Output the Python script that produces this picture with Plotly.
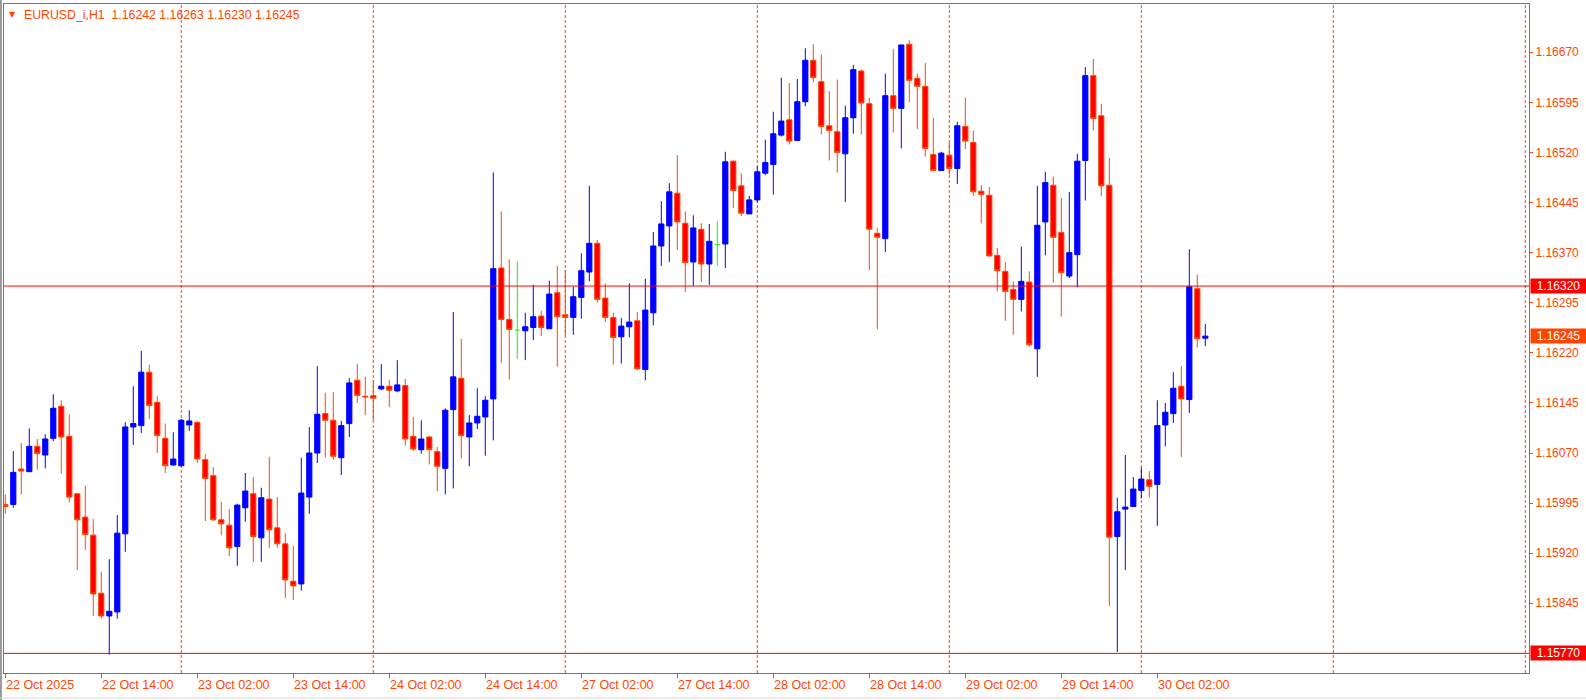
import plotly.graph_objects as go
import pandas as pd

symbol = "EURUSD_i,H1"
start_time = "2025-10-22 02:00"

opens = [1.15993, 1.15993, 1.16046, 1.16042, 1.16080, 1.16067, 1.16092, 1.16140, 1.16095, 1.16009,
         1.15974, 1.15947, 1.15860, 1.15826, 1.15832, 1.15949, 1.16109, 1.16111, 1.16191, 1.16146,
         1.16092, 1.16052, 1.16051, 1.16112, 1.16116, 1.16060, 1.16036, 1.15970, 1.15962, 1.15930,
         1.15988, 1.16009, 1.15943, 1.16001, 1.15958, 1.15934, 1.15878, 1.15874, 1.16004, 1.16070,
         1.16129, 1.16119, 1.16063, 1.16114, 1.16179, 1.16155, 1.16156, 1.16166, 1.16170, 1.16163,
         1.16171, 1.16095, 1.16075, 1.16094, 1.16072, 1.16047, 1.16135, 1.16182, 1.16094, 1.16115,
         1.16124, 1.16151, 1.16347, 1.16270, 1.16254, 1.16253, 1.16258, 1.16275, 1.16256, 1.16310,
         1.16277, 1.16273, 1.16303, 1.16341, 1.16384, 1.16302, 1.16273, 1.16244, 1.16259, 1.16268,
         1.16195, 1.16280, 1.16380, 1.16410, 1.16459, 1.16414, 1.16356, 1.16405, 1.16353, 1.16382,
         1.16383, 1.16507, 1.16470, 1.16428, 1.16449, 1.16489, 1.16502, 1.16546, 1.16569, 1.16538,
         1.16596, 1.16658, 1.16626, 1.16560, 1.16551, 1.16518, 1.16572, 1.16642, 1.16593, 1.16399,
         1.16391, 1.16605, 1.16586, 1.16682, 1.16631, 1.16619, 1.16517, 1.16493, 1.16516, 1.16496,
         1.16559, 1.16535, 1.16462, 1.16456, 1.16366, 1.16342, 1.16315, 1.16300, 1.16326, 1.16226,
         1.16416, 1.16471, 1.16400, 1.16335, 1.16367, 1.16508, 1.16635, 1.16575, 1.16471, 1.15945,
         1.15986, 1.15990, 1.16014, 1.16030, 1.16023, 1.16112, 1.16129, 1.16170, 1.16150, 1.16316,
         1.16242]

highs = [1.16008, 1.16073, 1.16085, 1.16107, 1.16091, 1.16098, 1.16158, 1.16149, 1.16128, 1.16009,
         1.16021, 1.15971, 1.15892, 1.15911, 1.15977, 1.16116, 1.16170, 1.16223, 1.16202, 1.16155,
         1.16114, 1.16101, 1.16121, 1.16134, 1.16117, 1.16068, 1.16049, 1.15997, 1.15986, 1.15994,
         1.16040, 1.16034, 1.16018, 1.16064, 1.16004, 1.15950, 1.15931, 1.16063, 1.16109, 1.16200,
         1.16160, 1.16161, 1.16118, 1.16182, 1.16203, 1.16184, 1.16179, 1.16203, 1.16179, 1.16209,
         1.16181, 1.16124, 1.16119, 1.16095, 1.16079, 1.16137, 1.16281, 1.16241, 1.16127, 1.16167,
         1.16155, 1.16490, 1.16432, 1.16360, 1.16357, 1.16280, 1.16322, 1.16283, 1.16328, 1.16350,
         1.16344, 1.16319, 1.16369, 1.16470, 1.16389, 1.16324, 1.16280, 1.16272, 1.16324, 1.16281,
         1.16331, 1.16401, 1.16447, 1.16474, 1.16516, 1.16432, 1.16426, 1.16414, 1.16413, 1.16417,
         1.16521, 1.16508, 1.16489, 1.16455, 1.16499, 1.16539, 1.16581, 1.16632, 1.16624, 1.16630,
         1.16676, 1.16682, 1.16667, 1.16612, 1.16629, 1.16590, 1.16651, 1.16644, 1.16602, 1.16407,
         1.16638, 1.16675, 1.16681, 1.16688, 1.16638, 1.16654, 1.16572, 1.16521, 1.16536, 1.16566,
         1.16602, 1.16553, 1.16471, 1.16468, 1.16377, 1.16356, 1.16327, 1.16379, 1.16342, 1.16470,
         1.16491, 1.16484, 1.16452, 1.16461, 1.16518, 1.16648, 1.16660, 1.16593, 1.16512, 1.16003,
         1.16067, 1.16034, 1.16048, 1.16043, 1.16149, 1.16145, 1.16191, 1.16200, 1.16375, 1.16337,
         1.16263]

lows = [1.15979, 1.15988, 1.16008, 1.16042, 1.16045, 1.16047, 1.16088, 1.16039, 1.15996, 1.15895,
        1.15925, 1.15826, 1.15822, 1.15768, 1.15822, 1.15922, 1.16082, 1.16100, 1.16121, 1.16070,
        1.16040, 1.16051, 1.16049, 1.16103, 1.16055, 1.15968, 1.15968, 1.15947, 1.15916, 1.15901,
        1.15967, 1.15907, 1.15907, 1.15928, 1.15928, 1.15853, 1.15850, 1.15864, 1.15979, 1.16055,
        1.16063, 1.16060, 1.16037, 1.16094, 1.16145, 1.16127, 1.16119, 1.16164, 1.16139, 1.16161,
        1.16081, 1.16073, 1.16069, 1.16053, 1.16013, 1.16008, 1.16017, 1.16062, 1.16050, 1.16106,
        1.16066, 1.16089, 1.16205, 1.16180, 1.16211, 1.16209, 1.16239, 1.16245, 1.16256, 1.16199,
        1.16246, 1.16247, 1.16271, 1.16327, 1.16295, 1.16266, 1.16202, 1.16204, 1.16243, 1.16194,
        1.16179, 1.16261, 1.16350, 1.16356, 1.16374, 1.16311, 1.16320, 1.16326, 1.16322, 1.16350,
        1.16347, 1.16437, 1.16425, 1.16428, 1.16445, 1.16486, 1.16457, 1.16544, 1.16532, 1.16538,
        1.16589, 1.16625, 1.16547, 1.16508, 1.16490, 1.16446, 1.16548, 1.16547, 1.16344, 1.16255,
        1.16371, 1.16550, 1.16526, 1.16595, 1.16555, 1.16514, 1.16493, 1.16493, 1.16487, 1.16473,
        1.16525, 1.16455, 1.16414, 1.16364, 1.16312, 1.16268, 1.16247, 1.16282, 1.16229, 1.16184,
        1.16366, 1.16325, 1.16274, 1.16332, 1.16318, 1.16448, 1.16553, 1.16455, 1.15841, 1.15772,
        1.15895, 1.15990, 1.16002, 1.16003, 1.15961, 1.16080, 1.16115, 1.16064, 1.16130, 1.16228,
        1.16230]

closes = [1.15990, 1.16041, 1.16043, 1.16080, 1.16069, 1.16091, 1.16137, 1.16094, 1.16004, 1.15970,
          1.15948, 1.15859, 1.15826, 1.15833, 1.15950, 1.16109, 1.16114, 1.16191, 1.16141, 1.16096,
          1.16051, 1.16061, 1.16119, 1.16118, 1.16061, 1.16032, 1.15970, 1.15964, 1.15928, 1.15992,
          1.16013, 1.15945, 1.16003, 1.15955, 1.15934, 1.15880, 1.15871, 1.16010, 1.16070, 1.16128,
          1.16119, 1.16065, 1.16111, 1.16175, 1.16156, 1.16154, 1.16152, 1.16170, 1.16164, 1.16172,
          1.16091, 1.16076, 1.16091, 1.16075, 1.16050, 1.16134, 1.16184, 1.16096, 1.16115, 1.16125,
          1.16149, 1.16346, 1.16270, 1.16255, 1.16254, 1.16259, 1.16274, 1.16258, 1.16308, 1.16274,
          1.16273, 1.16304, 1.16343, 1.16384, 1.16300, 1.16273, 1.16243, 1.16260, 1.16266, 1.16196,
          1.16284, 1.16380, 1.16413, 1.16461, 1.16416, 1.16355, 1.16407, 1.16353, 1.16387, 1.16382,
          1.16506, 1.16463, 1.16429, 1.16449, 1.16491, 1.16505, 1.16548, 1.16567, 1.16537, 1.16596,
          1.16658, 1.16632, 1.16559, 1.16553, 1.16520, 1.16572, 1.16644, 1.16594, 1.16405, 1.16393,
          1.16605, 1.16586, 1.16681, 1.16628, 1.16619, 1.16526, 1.16493, 1.16519, 1.16496, 1.16560,
          1.16537, 1.16461, 1.16457, 1.16365, 1.16343, 1.16312, 1.16300, 1.16327, 1.16232, 1.16411,
          1.16475, 1.16393, 1.16340, 1.16370, 1.16507, 1.16635, 1.16571, 1.16470, 1.15944, 1.15982,
          1.15989, 1.16016, 1.16031, 1.16020, 1.16111, 1.16131, 1.16167, 1.16151, 1.16319, 1.16241,
          1.16245]

h_levels = [1.16320, 1.15770]
y_ticks = [1.15845, 1.15920, 1.15995, 1.16070, 1.16145, 1.16220,
           1.16295, 1.16370, 1.16445, 1.16520, 1.16595, 1.16670]

FG = "#FF4500"
BULL = "#0000FF"
BEAR_FILL = "#FF0000"
DOJI = "#00FF00"
FONT = "Liberation Sans"

n = len(opens)
total_slots = 191
all_hours = pd.date_range(start_time, periods=total_slots * 2, freq="h")
times = [t for t in all_hours if t.dayofweek < 5][:total_slots]

idx = list(range(n))
normal = [i for i in idx if opens[i] != closes[i]]
doji = [i for i in idx if opens[i] == closes[i]]

fig = go.Figure()
fig.add_trace(go.Candlestick(
    x=normal,
    open=[opens[i] for i in normal], high=[highs[i] for i in normal],
    low=[lows[i] for i in normal], close=[closes[i] for i in normal],
    increasing=dict(line=dict(color=BULL, width=1), fillcolor=BULL),
    decreasing=dict(line=dict(color=FG, width=1), fillcolor=BEAR_FILL),
    whiskerwidth=0, hoverinfo="skip", showlegend=False,
))

dx, dy = [], []
for i in doji:
    dx += [i, i, None, i - 0.32, i + 0.32, None]
    dy += [highs[i], lows[i], None, opens[i], opens[i], None]
fig.add_trace(go.Scatter(x=dx, y=dy, mode="lines", line=dict(color=DOJI, width=1),
                         hoverinfo="skip", showlegend=False))

shapes = []
# day separators
for k, t in enumerate(times):
    if t.hour == 0:
        shapes.append(dict(type="line", xref="x", yref="paper", x0=k, x1=k, y0=0, y1=1,
                           line=dict(color=FG, width=1, dash="3px,2px"), layer="below"))
# horizontal levels
for lv in h_levels:
    shapes.append(dict(type="line", xref="paper", yref="y", x0=0, x1=1, y0=lv, y1=lv,
                       line=dict(color="#FF0000", width=1)))
# window edges
shapes.append(dict(type="line", xref="paper", yref="paper", x0=-0.0020, x1=-0.0020, y0=-0.05, y1=1.01,
                   line=dict(color="#9a9a9a", width=2)))
shapes.append(dict(type="line", xref="paper", yref="paper", x0=-0.01, x1=1.05, y0=-0.0375, y1=-0.0375,
                   line=dict(color="#d8d8d8", width=1)))

annotations = []
tick_idx = list(range(0, n, 12))
for j, k in enumerate(tick_idx):
    t = times[k]
    label = t.strftime("%d %b %Y") if j == 0 else t.strftime("%d %b %H:%M")
    annotations.append(dict(x=k, y=0, xref="x", yref="paper", text=label, showarrow=False,
                            xanchor="left", yanchor="top", yshift=-3, xshift=-1,
                            font=dict(family=FONT, size=12.5, color=FG)))

def price_box(p, color):
    return dict(x=1, y=p, xref="paper", yref="y", text=f"{p:.5f}", showarrow=False,
                xanchor="left", yanchor="middle", xshift=1, bgcolor=color,
                width=55, height=14, borderpad=0, align="center",
                font=dict(family=FONT, size=12, color="white"))

for lv in h_levels:
    annotations.append(price_box(lv, "#FF0000"))
annotations.append(price_box(closes[-1], FG))

header = f"{symbol}  {opens[-1]:.5f} {highs[-1]:.5f} {lows[-1]:.5f} {closes[-1]:.5f}"
annotations.append(dict(x=0, y=1, xref="paper", yref="paper", text=header, showarrow=False,
                        xanchor="left", yanchor="top", xshift=18, yshift=-2,
                        font=dict(family=FONT, size=12.3, color=FG)))
annotations.append(dict(x=0, y=1, xref="paper", yref="paper", text="▼", showarrow=False,
                        xanchor="left", yanchor="top", xshift=3, yshift=-4,
                        font=dict(family="DejaVu Sans", size=8, color=FG)))

fig.update_layout(
    width=1586, height=700,
    margin=dict(l=4, r=57, t=4, b=27),
    paper_bgcolor="white", plot_bgcolor="white",
    boxgap=0.35, boxgroupgap=0,
    shapes=shapes, annotations=annotations,
    xaxis=dict(range=[-0.16, 190.46], showgrid=False, zeroline=False,
               tickmode="array", tickvals=tick_idx, ticktext=[""] * len(tick_idx),
               ticks="outside", ticklen=4, tickcolor=FG, tickwidth=1,
               showline=True, mirror=True, linecolor=FG, linewidth=1,
               rangeslider=dict(visible=False), fixedrange=True),
    yaxis=dict(side="right", range=[1.157406, 1.167423], showgrid=False, zeroline=False,
               tickmode="array", tickvals=y_ticks, ticktext=[f"{v:.5f}" for v in y_ticks],
               ticks="outside", ticklen=3, tickcolor=FG, tickwidth=1,
               tickfont=dict(family=FONT, size=12, color=FG),
               showline=True, mirror=True, linecolor=FG, linewidth=1, fixedrange=True),
)

fig.write_html("out.html", config={"displayModeBar": False},
               post_script="document.body.style.margin='0px';document.body.style.overflow='hidden';")
